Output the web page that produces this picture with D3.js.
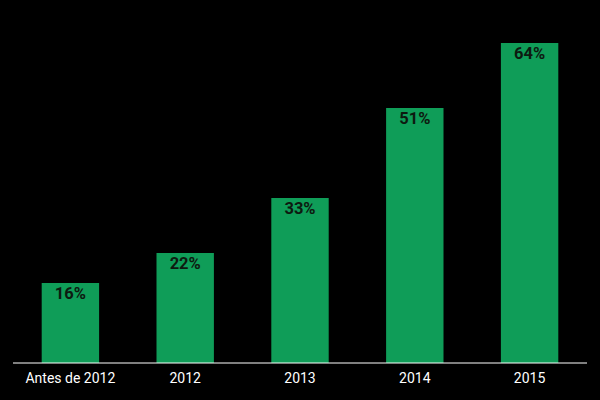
<!DOCTYPE html>
<html><head><meta charset="utf-8">
<script src="https://cdn.jsdelivr.net/npm/d3@7"></script>
<style>body{margin:0;background:#000}svg{display:block}</style>
</head><body>
<svg id="c" width="600" height="400"></svg>
<script>
const categories = ["Antes de 2012", "2012", "2013", "2014", "2015"];
const values = [16, 22, 33, 51, 64];
const labels = ["16%", "22%", "33%", "51%", "64%"];

const svg = d3.select("#c");
svg.append("rect").attr("width",600).attr("height",400).attr("fill","#000");
const x = d3.scaleBand().domain(categories).range([13,587]).paddingInner(0.5).paddingOuter(0.25);
const y = d3.scaleLinear().domain([0,64]).range([363,43]);

svg.selectAll(".bar").data(values).join("rect")
  .attr("x",(d,i)=>x(categories[i])).attr("width",x.bandwidth())
  .attr("y",d=>y(d)).attr("height",d=>y(0)-y(d)).attr("fill","#0f9d58");

svg.selectAll(".lbl").data(values).join("text")
  .attr("x",(d,i)=>x(categories[i])+x.bandwidth()/2).attr("y",d=>y(d)+15.5)
  .attr("text-anchor","middle").attr("font-family","Roboto").attr("font-weight","bold")
  .attr("font-size",16.5).attr("fill","#0d1a10").text((d,i)=>labels[i]);

const ax = svg.append("g").attr("transform","translate(0,363)")
  .call(d3.axisBottom(x).tickSize(0).tickPadding(10));
ax.select(".domain").attr("stroke","#fff").attr("d","M13,0H587");
ax.selectAll("text").attr("fill","#fff").attr("font-family","Roboto").attr("font-size",14);
</script>
</body></html>
